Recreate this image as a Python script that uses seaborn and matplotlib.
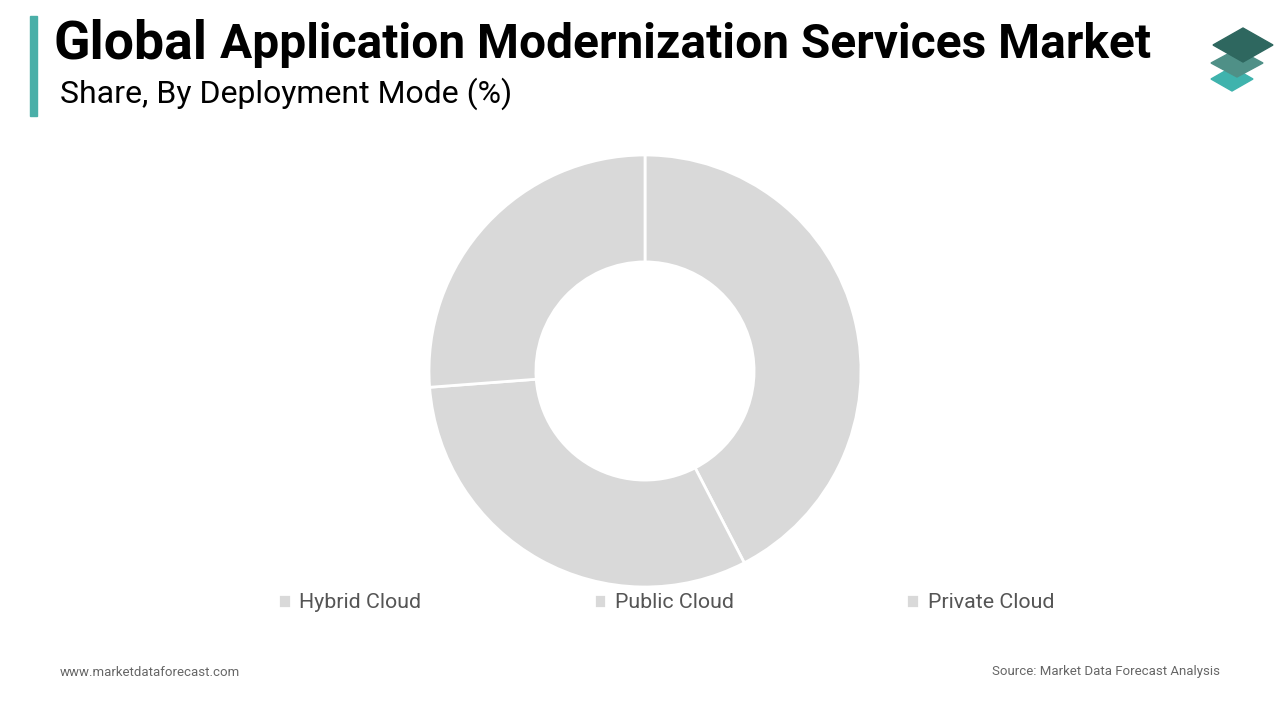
import seaborn as sns
import matplotlib.pyplot as plt
from matplotlib.patches import Polygon, Rectangle

# data
modes = ['Hybrid Cloud', 'Public Cloud', 'Private Cloud']
share = [42.4, 31.4, 26.2]
slice_colors = ['#d9d9d9', '#d9d9d9', '#d9d9d9']

sns.set_theme(style='white')
plt.rcParams['font.family'] = ['Roboto', 'DejaVu Sans']

fig = plt.figure(figsize=(12.8, 7.2), dpi=100)
fig.patch.set_facecolor('white')

# donut
ax = fig.add_axes([(645 - 216) / 1280, (720 - 371 - 216) / 720, 432 / 1280, 432 / 720])
wedges, _ = ax.pie(share, colors=slice_colors, startangle=90, counterclock=False,
                   radius=1.0, wedgeprops=dict(width=0.495, edgecolor='white', linewidth=2))
ax.set_xlim(-1, 1)
ax.set_ylim(-1, 1)
ax.set_aspect('equal')
ax.axis('off')

# legend under the donut
leg = fig.legend(wedges, modes, loc='center', bbox_to_anchor=(666 / 1280, 1 - 603 / 720),
                 ncol=3, frameon=False, fontsize=15.4, handlelength=0.6, handleheight=0.6,
                 handletextpad=0.4, columnspacing=8.05, labelcolor='#555555')

# title block
fig.add_artist(Rectangle((30 / 1280, 1 - 116 / 720), 7 / 1280, 100 / 720,
                         transform=fig.transFigure, color='#4aafa8'))
fig.text(54 / 1280, 1 - 44 / 720, 'Global', fontsize=38.5, fontweight='bold',
         color='black', va='center', ha='left')
fig.text(220 / 1280, 1 - 45 / 720, 'Application Modernization Services Market', fontsize=34.5,
         fontweight='bold', color='black', va='center', ha='left')
fig.text(60 / 1280, 1 - 94 / 720, 'Share, By Deployment Mode (%)', fontsize=23,
         color='black', va='center', ha='left')

# logo: three stacked diamonds
def diamond(cx, cy, hw, hh, color):
    pts = [((cx - hw) / 1280, 1 - cy / 720), (cx / 1280, 1 - (cy - hh) / 720),
           ((cx + hw) / 1280, 1 - cy / 720), (cx / 1280, 1 - (cy + hh) / 720)]
    fig.add_artist(Polygon(pts, closed=True, transform=fig.transFigure, color=color))

diamond(1232, 79, 21, 12, '#3fb3ad')
diamond(1237, 63, 26, 14, '#4f9087')
diamond(1243, 45, 30, 17, '#2e675f')

# footer
fig.text(60 / 1280, 1 - 672 / 720, 'www.marketdataforecast.com', fontsize=9.5,
         color='#666666', va='center', ha='left')
fig.text(1220 / 1280, 1 - 671 / 720, 'Source: Market Data Forecast Analysis', fontsize=9.5,
         color='#666666', va='center', ha='right')

fig.savefig('out.png', dpi=100, facecolor='white')
